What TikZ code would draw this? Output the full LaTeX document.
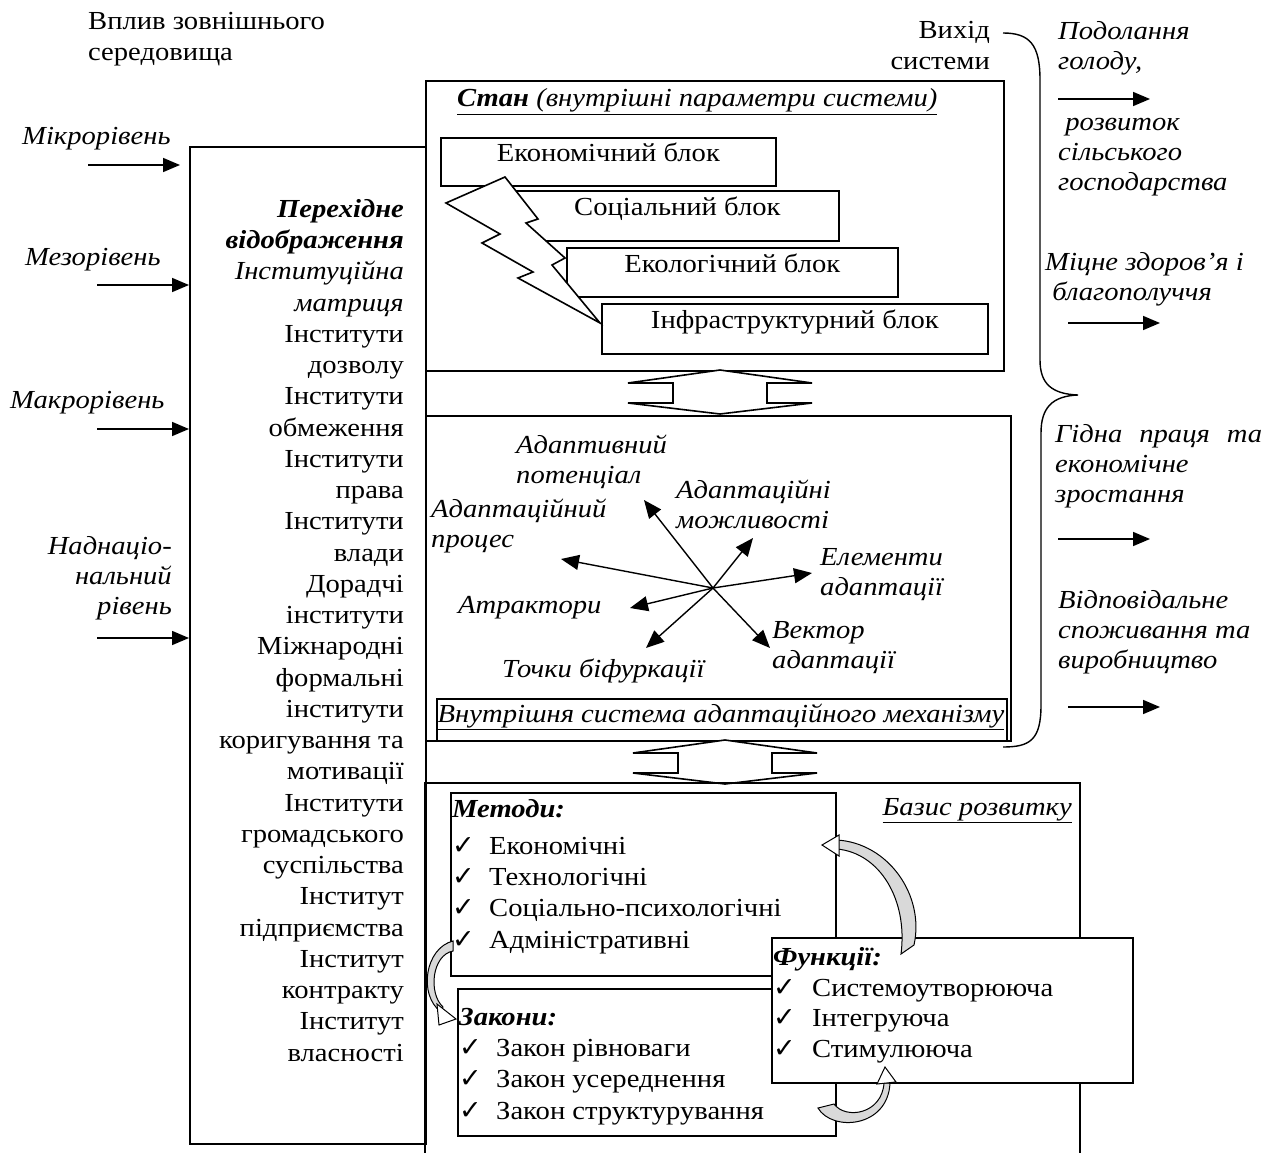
\documentclass[tikz,border=0pt]{standalone}
\usepackage{fontspec}
\setmainfont[FakeStretch=1.1]{Liberation Serif}
\newfontfamily\symfont{DejaVu Sans}
\usetikzlibrary{arrows.meta, positioning, calc}

\newcommand{\chk}{\makebox[37pt][l]{\symfont\fontsize{27}{27}\selectfont ✓}}
\newcommand{\twoway}[2]{%
  \draw[line width=1.6pt, fill=white] (#1,#2) -- ++(-92,13) -- ++(45,0) -- ++(0,20)
    -- ++(-45,0) -- ++(92,11) -- ++(92,-11) -- ++(-45,0) -- ++(0,-20) -- ++(45,0) -- cycle;}

\begin{document}
\begin{tikzpicture}[x=1pt, y=-1pt,
  txt/.style={inner sep=0pt, font=\fontsize{26}{31.25}\selectfont},
  itxt/.style={inner sep=0pt, font=\fontsize{26}{30}\selectfont\itshape},
  panel/.style={draw, line width=1.7pt, inner sep=0pt, anchor=north west},
  blockbox/.style={panel, fill=white, font=\fontsize{26}{30}\selectfont,
                   text height=12pt, text depth=12pt},
  inarrow/.style={line width=1.6pt, -{Triangle[length=17pt, width=14pt]}},
  vecarrow/.style={line width=1.4pt, -{Triangle[length=18pt, width=15pt]}},
  bentarrow/.style={line width=1pt, fill=gray!30},
  headtip/.style={line width=1pt, fill=white}]
  \useasboundingbox (0,0) rectangle (1271,1153);

  % outer environment and inputs (multi-line nodes sit on their last baseline)
  \node[txt, anchor=base west, align=left] (envtitle) at (88,61) {Вплив зовнішнього\\середовища};
  \node[panel, minimum width=236pt, minimum height=997pt] (trans) at (189,146) {};
  \node[itxt, anchor=base west] (mikrot) at (22,145) {Мікрорівень};
  \node[itxt, anchor=base west] (mezot) at (25,265) {Мезорівень};
  \node[itxt, anchor=base west] (makrot) at (10,408) {Макрорівень};
  \node[itxt, anchor=base east, align=right] (nadt) at (172,614) {Наднаціо-\\нальний\\рівень};
  \coordinate (mikro) at (88,165);
  \coordinate (mezo) at (97,285);
  \coordinate (makro) at (97,429);
  \coordinate (nad) at (97,638);
  \draw[inarrow, shorten >=9pt] (mikro) -- (mikro -| trans.west);
  \foreach \lv in {mezo, makro, nad}
    \draw[inarrow] (\lv) -- (\lv -| trans.west);
  \node[txt, anchor=base east, align=right] (instlist) at (404,1061)
    {\textbf{\textit{Перехідне}}\\\textbf{\textit{відображення}}\\\textit{Інституційна}\\\textit{матриця}\\
     Інститути\\дозволу\\Інститути\\обмеження\\Інститути\\права\\Інститути\\влади\\Дорадчі\\інститути\\
     Міжнародні\\формальні\\інститути\\коригування та\\мотивації\\Інститути\\громадського\\суспільства\\
     Інститут\\підприємства\\Інститут\\контракту\\Інститут\\власності};

  % state of the system
  \node[panel, minimum width=578pt, minimum height=290pt] (state) at (425,80) {};
  \node[itxt, anchor=base west] (statetitle) at (457,107)
    {\underline{\textbf{Стан} (внутрішні параметри системи)}};
  \node[blockbox, minimum width=335pt, minimum height=48pt] (econ) at (440,137) {Економічний блок};
  \node[blockbox, minimum width=323pt, minimum height=50pt] (soc) at (515,190) {Соціальний блок};
  \node[blockbox, minimum width=331pt, minimum height=49pt] (ecol) at (566,247) {Екологічний блок};
  \node[blockbox, minimum width=386pt, minimum height=50pt] (infra) at (601,303) {Інфраструктурний блок};
  \filldraw[fill=white, line width=1.6pt] (505,177) -- (538,219) -- (526,223) -- (565,258) -- (552,265)
    -- (600,323) -- (518,278) -- (533,272) -- (482,243) -- (500,234) -- (446,203) -- cycle;
  \twoway{720}{370}

  % adaptation mechanism
  \node[panel, minimum width=585pt, minimum height=325pt] (adapt) at (425,415) {};
  \node[panel, minimum width=570pt, minimum height=42pt] (adaptlbl) at (436,698) {};
  \node[itxt, anchor=base] (adaptname) at (721,722) {\underline{Внутрішня система адаптаційного механізму}};
  \coordinate (hub) at (713,588);
  \foreach \x/\y in {644/500, 753/538, 812/573, 770/648, 646/648, 630/608, 561/559}
    \draw[vecarrow] (hub) -- (\x,\y);
  \node[itxt, anchor=base west, align=left] (potent) at (516,483) {Адаптивний\\потенціал};
  \node[itxt, anchor=base west, align=left] (possib) at (676,528) {Адаптаційні\\можливості};
  \node[itxt, anchor=base west, align=left] (process) at (431,547) {Адаптаційний\\процес};
  \node[itxt, anchor=base west, align=left] (elem) at (820,595) {Елементи\\адаптації};
  \node[itxt, anchor=base west] (attr) at (458,613) {Атрактори};
  \node[itxt, anchor=base west, align=left] (vect) at (772,668) {Вектор\\адаптації};
  \node[itxt, anchor=base west] (bifurc) at (502,677) {Точки біфуркації};
  \twoway{725}{740}

  % development basis
  \draw[line width=1.7pt] (425,1153) -- (425,783) -- (1080,783) -- (1080,1153);
  \node[itxt, anchor=base east] (basistitle) at (1072,815) {\underline{Базис розвитку}};
  \node[panel, fill=white, minimum width=385pt, minimum height=183pt] (methods) at (450,792) {};
  \node[panel, fill=white, minimum width=378pt, minimum height=147pt] (laws) at (457,988) {};
  \node[panel, fill=white, minimum width=361pt, minimum height=145pt] (funcs) at (771,937) {};
  \node[txt, anchor=base west, align=left] (methlist) at (452,948)
    {\textbf{\textit{Методи:}}\\[6pt]\chk Економічні\\\chk Технологічні\\\chk Соціально-психологічні\\\chk Адміністративні};
  \node[txt, anchor=base west, align=left] (lawlist) at (459,1119)
    {\textbf{\textit{Закони:}}\\\chk Закон рівноваги\\\chk Закон усереднення\\\chk Закон структурування};
  \node[txt, anchor=base west, align=left, font=\fontsize{26}{30.5}\selectfont] (funclist) at (773,1057)
    {\textbf{\textit{Функції:}}\\\makebox[39pt][l]{\chk}Системоутворююча\\\makebox[39pt][l]{\chk}Інтегруюча\\\makebox[39pt][l]{\chk}Стимулююча};
  % bent arrows
  \filldraw[bentarrow] (837,840) .. controls (888,843) and (925,895) .. (914,945) -- (901,954)
    .. controls (908,900) and (880,853) .. (837,849) -- cycle;
  \filldraw[headtip] (839,835) -- (822,845) -- (839,856) -- cycle;
  \filldraw[bentarrow] (453,941) .. controls (425,948) and (418,995) .. (441,1012) -- (443,1007)
    .. controls (428,993) and (432,955) .. (453,951) -- cycle;
  \filldraw[headtip] (437,1004) -- (456,1019) -- (439,1025) -- cycle;
  \filldraw[bentarrow] (818,1108) .. controls (832,1132) and (888,1128) .. (890,1083) -- (884,1083)
    .. controls (882,1114) and (846,1120) .. (834,1104) -- cycle;
  \filldraw[headtip] (877,1084) -- (885,1067) -- (896,1082) -- cycle;

  % system output
  \node[txt, anchor=base east, align=right] (outtitle) at (990,70) {Вихід\\системи};
  \draw[line width=1.4pt] (1003,33) .. controls (1030,33) and (1040,45) .. (1040,80) -- (1040,360)
    .. controls (1040,384) and (1052,394) .. (1078,395) .. controls (1052,396) and (1041,408) .. (1041,433)
    -- (1041,705) .. controls (1041,740) and (1030,747) .. (1003,747);
  \node[itxt, anchor=base west, align=left] (hunger) at (1058,70) {Подолання\\голоду,};
  \node[itxt, anchor=base west, align=left] (agri) at (1058,190) {\ розвиток\\сільського\\господарства};
  \node[itxt, anchor=base west, align=left] (health) at (1045,300) {Міцне здоров’я і\\\ благополуччя};
  \node[itxt, anchor=base west, align=left] (work) at (1055,502)
    {\makebox[207pt][s]{Гідна праця та}\\економічне\\зростання};
  \node[itxt, anchor=base west, align=left] (consum) at (1058,668) {Відповідальне\\споживання та\\виробництво};
  \foreach \x/\y in {1058/99, 1068/323, 1058/539, 1068/707}
    \draw[inarrow] (\x,\y) coordinate (o) -- ++(92,0);
\end{tikzpicture}
\end{document}
